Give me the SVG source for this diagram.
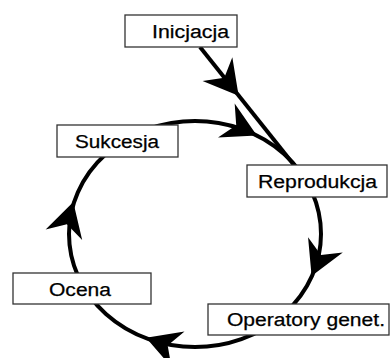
<svg xmlns="http://www.w3.org/2000/svg" width="390" height="358" viewBox="0 0 390 358">
<style>
.box{fill:#fff;stroke:#333;stroke-width:1.3}
.lbl{font-family:"Liberation Sans",Arial,sans-serif;font-size:18px;fill:#000;stroke:#000;stroke-width:0.25}
.wire{fill:none;stroke:#000;stroke-width:4}
</style>
<defs>
<path id="ah" d="M1,0 L-33,-19 L-22,0 L-33,19 Z" fill="#000"/>
</defs>
<rect width="390" height="358" fill="#fff"/>
<g id="connectors">
<ellipse class="wire" cx="195" cy="234" rx="126" ry="113"/>
<line class="wire" x1="200" y1="47" x2="294" y2="165"/>
<use href="#ah" transform="translate(238,95) rotate(51.5)"/>
<use href="#ah" transform="translate(256,135) rotate(26)"/>
<use href="#ah" transform="translate(312,275) rotate(114)"/>
<use href="#ah" transform="translate(147,338) rotate(200)"/>
<use href="#ah" transform="translate(73,203) rotate(-74)"/>
</g>
<g id="inicjacja">
<rect class="box" x="125" y="15" width="112" height="32"/>
<text class="lbl" x="152" y="38" textLength="77" lengthAdjust="spacingAndGlyphs">Inicjacja</text>
</g>
<g id="sukcesja">
<rect class="box" x="57" y="125" width="121" height="32"/>
<text class="lbl" x="75" y="148" textLength="84" lengthAdjust="spacingAndGlyphs">Sukcesja</text>
</g>
<g id="reprodukcja">
<rect class="box" x="247" y="165" width="140" height="32"/>
<text class="lbl" x="258" y="188" textLength="119" lengthAdjust="spacingAndGlyphs">Reprodukcja</text>
</g>
<g id="operatory">
<rect class="box" x="208" y="304" width="181" height="31"/>
<text class="lbl" x="227" y="326" textLength="158" lengthAdjust="spacingAndGlyphs">Operatory genet.</text>
</g>
<g id="ocena">
<rect class="box" x="13" y="273" width="138" height="31"/>
<text class="lbl" x="49" y="296" textLength="62" lengthAdjust="spacingAndGlyphs">Ocena</text>
</g>
</svg>
